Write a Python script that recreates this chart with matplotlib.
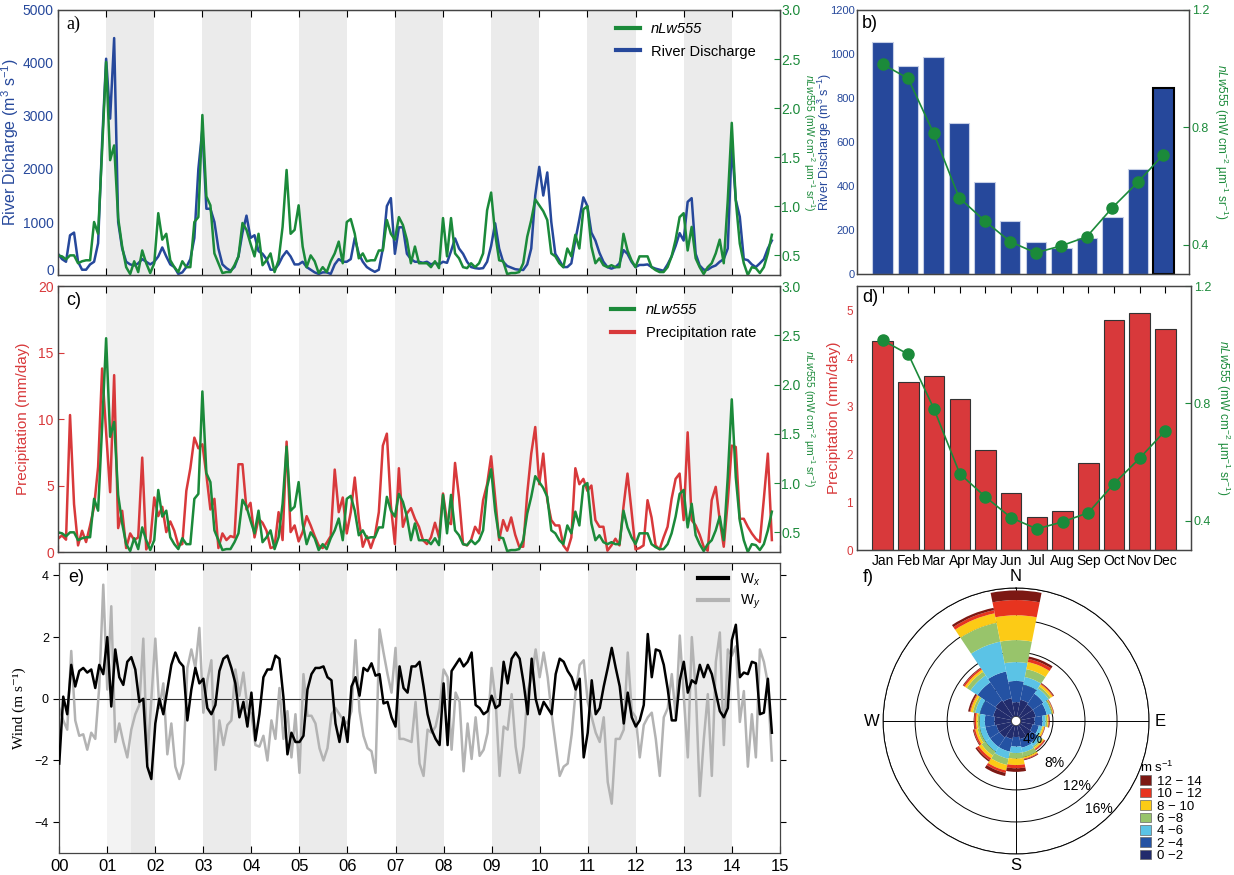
import numpy as np
import matplotlib
matplotlib.use("Agg")
import matplotlib.pyplot as plt
from matplotlib.patches import Patch
from matplotlib.lines import Line2D

plt.rcParams['font.family'] = ['Liberation Sans', 'DejaVu Sans']
plt.rcParams['mathtext.fontset'] = 'custom'
plt.rcParams['mathtext.rm'] = 'Liberation Sans'
plt.rcParams['mathtext.it'] = 'Liberation Sans:italic'
plt.rcParams['axes.linewidth'] = 0.9
plt.rcParams['axes.edgecolor'] = '#444444'

# ---------------- monthly series, 2000-01 .. 2014-11 ----------------
discharge = [
    400, 300, 250, 750, 800, 250, 100, 100, 200, 250, 600, 2500,
    4080, 2950, 4470, 1000, 500, 250, 200, 180, 220, 300, 250, 200,
    250, 350, 520, 350, 200, 150, 20, 50, 150, 300, 700, 2000,
    2750, 1250, 1250, 1000, 500, 200, 130, 80, 150, 350, 800, 1120,
    700, 750, 450, 400, 300, 100, 100, 200, 350, 450, 350, 200,
    200, 250, 150, 100, 50, 20, 50, 50, 20, 200, 300, 250,
    250, 300, 700, 400, 250, 150, 100, 60, 100, 500, 1300, 1450,
    400, 900, 900, 400, 300, 250, 250, 230, 250, 200, 230, 200,
    250, 230, 450, 690, 500, 400, 250, 150, 130, 120, 130, 250,
    550, 975, 500, 250, 170, 140, 110, 100, 95, 200, 500, 1500,
    2040, 1500, 1935, 1000, 400, 280, 150, 150, 220, 660, 1050, 1465,
    1300, 800, 650, 420, 250, 150, 120, 150, 220, 470, 400, 250,
    150, 190, 190, 200, 150, 120, 100, 80, 200, 350, 550, 790,
    650, 1380, 1450, 400, 180, 100, 100, 150, 180, 250, 300, 500,
    2480, 1415, 1100, 300, 280, 200, 150, 220, 300, 500, 650]

nlw555 = [
    0.50, 0.49, 0.46, 0.50, 0.50, 0.42, 0.44, 0.45, 0.45, 0.84, 0.72, 1.57,
    2.47, 1.47, 1.62, 0.88, 0.59, 0.38, 0.31, 0.44, 0.33, 0.55, 0.42, 0.32,
    0.42, 0.93, 0.66, 0.72, 0.45, 0.38, 0.33, 0.44, 0.38, 0.38, 0.84, 0.89,
    1.93, 1.10, 1.01, 0.52, 0.42, 0.32, 0.33, 0.33, 0.40, 0.49, 0.83, 0.76,
    0.62, 0.49, 0.72, 0.40, 0.45, 0.52, 0.33, 0.45, 0.79, 1.37, 0.72, 0.76,
    1.01, 0.59, 0.38, 0.50, 0.44, 0.32, 0.38, 0.33, 0.44, 0.52, 0.64, 0.42,
    0.84, 0.87, 0.72, 0.47, 0.52, 0.44, 0.45, 0.45, 0.55, 0.55, 0.86, 0.72,
    0.66, 0.89, 0.81, 0.66, 0.42, 0.59, 0.42, 0.42, 0.42, 0.38, 0.44, 0.37,
    0.88, 0.49, 0.88, 0.52, 0.47, 0.38, 0.37, 0.42, 0.38, 0.42, 0.52, 0.96,
    1.14, 0.72, 0.45, 0.44, 0.31, 0.32, 0.32, 0.33, 0.42, 0.69, 0.86, 1.07,
    1.01, 0.95, 0.86, 0.52, 0.49, 0.42, 0.38, 0.57, 0.49, 0.71, 0.57, 0.97,
    1.00, 0.59, 0.42, 0.47, 0.40, 0.38, 0.40, 0.38, 0.38, 0.72, 0.55, 0.45,
    0.38, 0.49, 0.49, 0.49, 0.38, 0.35, 0.33, 0.33, 0.38, 0.49, 0.66, 0.89,
    0.93, 0.55, 0.79, 0.47, 0.38, 0.31, 0.38, 0.42, 0.52, 0.66, 0.42, 1.06,
    1.85, 1.06, 0.62, 0.42, 0.30, 0.38, 0.37, 0.32, 0.38, 0.52, 0.71]

precip = [
    1.0, 1.25, 0.93, 10.3, 3.6, 0.5, 1.6, 0.75, 2.0, 3.4, 6.4, 13.8,
    9.0, 4.5, 13.3, 1.8, 3.1, 0.3, 1.4, 0.9, 1.1, 7.1, 0.2, 0.8,
    4.1, 2.7, 3.4, 1.5, 2.3, 1.6, 0.5, 0.6, 4.6, 6.3, 8.6, 7.8,
    8.1, 5.8, 3.2, 4.0, 0.3, 1.4, 0.9, 1.2, 1.1, 6.6, 6.6, 3.2,
    3.7, 1.1, 2.5, 2.2, 1.6, 0.3, 0.4, 3.0, 0.9, 8.3, 1.5, 2.0,
    0.8, 1.5, 2.7, 2.0, 1.2, 0.5, 0.3, 0.7, 1.2, 6.2, 3.0, 4.1,
    1.4, 3.0, 5.6, 2.5, 0.4, 1.2, 0.3, 1.2, 3.0, 8.0, 8.9, 3.5,
    0.6, 6.3, 1.9, 2.9, 3.3, 2.5, 1.9, 0.9, 0.6, 1.1, 2.2, 1.1,
    4.4, 2.3, 2.1, 6.7, 4.1, 0.6, 0.5, 0.9, 1.9, 1.4, 3.9, 5.1,
    7.2, 4.1, 0.9, 2.4, 1.6, 2.6, 1.3, 0.4, 0.4, 4.4, 7.4, 9.4,
    5.1, 7.4, 3.9, 2.4, 2.0, 2.0, 0.5, 0.1, 1.1, 6.3, 5.1, 5.5,
    4.6, 5.0, 2.4, 1.9, 1.9, 0.1, 0.5, 1.0, 0.5, 3.4, 5.9, 3.1,
    0.2, 0.3, 0.5, 3.9, 2.6, 0.5, 0.2, 1.1, 1.9, 4.0, 5.5, 5.9,
    2.4, 9.0, 2.4, 2.0, 1.3, 0.4, 0.1, 3.9, 4.9, 2.4, 0.4, 3.8,
    8.0, 7.9, 2.5, 2.5, 1.9, 1.4, 1.0, 0.75, 4.0, 7.4, 0.9]

wind_x = [
    -2.1, 0.07, -0.5, 1.1, 0.4, 0.9, 1.0, 0.85, 0.95, 0.35, 1.1, 0.8,
    2.0, -0.25, 1.6, 0.7, 0.45, 1.2, 1.35, 0.95, -0.1, 0.0, -2.2, -2.6,
    -0.8, 0.0, -0.5, 0.3, 1.1, 1.5, 1.2, 1.05, -0.7, 0.3, 1.0, 0.5,
    0.65, -0.3, -0.5, -0.2, 0.9, 1.3, 1.4, 1.0, 0.5, -0.6, -0.1, -0.9,
    0.2, -1.35, -0.5, 0.7, 0.95, 0.95, 1.4, 1.3, 0.05, -1.8, -1.1, -1.4,
    -1.4, -1.2, 0.3, 0.8, 1.0, 1.0, 1.05, 0.7, 0.6, -0.8, -1.4, -0.6,
    -1.4, 0.4, 0.7, 0.1, 1.0, 0.9, 1.15, 0.75, 0.8, -0.15, -0.1, -0.6,
    -0.9, 1.05, 0.35, 0.2, 1.05, 1.05, 1.2, 0.4, -0.5, -1.0, -1.3, -1.5,
    0.5, -1.5, 0.9, 1.1, 1.3, 1.05, 1.2, 1.5, -0.2, -0.3, -0.5, -0.4,
    0.1, -0.3, -0.2, 1.2, 0.5, 1.3, 1.5, 1.3, 0.5, -0.5, 1.3, 0.0,
    -0.5, -0.1, -0.3, -0.5, 0.8, 1.3, 1.2, 0.9, 0.7, 0.3, 0.65, -1.9,
    -1.1, 0.6, -0.5, -0.3, 0.4, 1.0, 1.65, 1.0, 0.4, -0.8, 0.2, -0.6,
    -0.9, -0.7, -0.2, 2.1, 0.7, 1.6, 1.55, 1.1, 0.3, -0.7, -0.7, 0.6,
    1.2, 0.2, 0.6, 0.5, 1.1, 0.7, 1.1, 0.8, 0.2, -0.4, -0.6, -0.3,
    1.9, 2.4, 0.7, 0.85, 0.8, 1.2, 1.15, -0.5, -0.45, 0.65, -1.1]

wind_y = [
    -0.3, -0.7, -1.0, 1.55, -0.7, -1.2, -1.15, -1.65, -1.1, -1.3, 0.4, 3.7,
    0.3, 3.0, -1.4, -0.8, -1.4, -1.9, -1.0, -0.5, -0.2, 1.95, -2.0, 0.0,
    1.95, -0.3, 0.5, -1.8, -0.8, -2.2, -2.6, -2.1, 1.0, 1.6, 1.0, 2.3,
    -0.45, 0.6, 1.25, -2.3, -0.7, -1.5, -0.85, -0.7, 0.95, 0.1, 0.85, -0.3,
    -0.5, -1.5, -1.55, -1.2, -2.0, -0.7, -1.3, 0.35, -1.3, -0.4, -1.9, -0.5,
    -2.4, 0.8, -0.55, -0.55, -0.8, -1.6, -2.0, -1.6, -0.5, -0.3, -0.5, -0.7,
    -0.8, -0.4, 1.9, -0.4, -1.2, -1.6, -1.7, -2.4, 2.25, 1.5, 0.8, 0.2,
    1.65, -1.3, -1.3, -1.35, -1.4, -0.1, -2.1, -2.5, -1.0, -1.1, -0.9, -0.3,
    0.95, 0.7, -1.65, 0.2, -0.1, -2.35, -0.8, -1.95, -0.6, -1.85, -1.65, -1.1,
    1.0, -0.05, -2.5, -0.9, -1.0, 0.15, -1.55, -2.4, -1.55, 0.25, 0.7, 1.6,
    0.7, 1.5, 0.7, -0.5, -1.5, -2.5, -2.2, -2.1, -1.15, 0.25, 1.1, 1.25,
    -0.1, -0.6, -1.1, -1.4, -0.6, -2.7, -3.4, -1.3, -1.3, -1.0, 1.5, -0.4,
    -0.6, -1.9, -0.85, -0.6, -0.45, -1.3, -2.5, -0.6, -0.3, 0.8, -0.6, 2.05,
    0.05, -1.9, 2.0, 0.25, -3.15, -1.3, 0.15, -2.5, 1.2, 2.15, -1.5, 1.6,
    1.4, 1.7, -0.75, 0.25, -2.2, -0.5, -1.9, 1.6, 1.2, 0.5, -2.0]

# ---------------- climatologies ----------------
months = ['Jan', 'Feb', 'Mar', 'Apr', 'May', 'Jun', 'Jul', 'Aug', 'Sep', 'Oct', 'Nov', 'Dec']
discharge_clim = [1056, 945, 988, 685, 420, 241, 144, 117, 162, 261, 476, 844]
precip_clim = [4.36, 3.51, 3.63, 3.15, 2.09, 1.18, 0.68, 0.81, 1.82, 4.79, 4.94, 4.61]
nlw_clim = [1.015, 0.967, 0.780, 0.560, 0.481, 0.410, 0.372, 0.396, 0.427, 0.526, 0.613, 0.707]

# ---------------- wind rose (% per direction, per speed class) ----------------
directions = ['N', 'NNE', 'NE', 'ENE', 'E', 'ESE', 'SE', 'SSE',
              'S', 'SSW', 'SW', 'WSW', 'W', 'WNW', 'NW', 'NNW']
speed_labels = ['0 \u22122', '2 \u22124', '4 \u22126', '6 \u22128',
                '8 \u2212 10', '10 \u2212 12', '12 \u2212 14']
spd_0_2 = [1.75, 2.1, 1.9, 1.9, 1.7, 1.5, 1.7, 1.7, 1.4, 1.7, 1.9, 1.9, 2.1, 2.3, 2.5, 2.3]
spd_2_4 = [2.65, 1.9, 1.6, 1.4, 1.0, 0.8, 1.0, 1.1, 1.2, 1.6, 1.4, 1.4, 1.2, 1.7, 2.7, 3.4]
spd_4_6 = [2.35, 1.0, 0.8, 0.6, 0.4, 0.4, 0.5, 0.6, 0.8, 0.9, 0.7, 0.7, 0.65, 0.6, 1.05, 3.8]
spd_6_8 = [2.75, 1.0, 0.3, 0.15, 0.2, 0.1, 0.2, 0.6, 0.7, 0.8, 0.6, 0.3, 0.25, 0.3, 0.55, 2.4]
spd_8_10 = [3.1, 0.9, 0.3, 0.1, 0.15, 0.2, 0.2, 0.2, 0.8, 0.7, 0.4, 0.3, 0.2, 0.3, 0.3, 1.2]
spd_10_12 = [1.9, 0.4, 0.1, 0.05, 0.05, 0.05, 0.15, 0.1, 0.4, 0.3, 0.3, 0.2, 0.2, 0.1, 0.2, 0.4]
spd_12_14 = [1.2, 0.3, 0.1, 0.05, 0.1, 0.05, 0.05, 0.1, 0.45, 0.4, 0.2, 0.1, 0.1, 0.2, 0.1, 0.3]

BLUE = '#26489b'
GREEN = '#1b8a3a'
RED = '#d8393b'
GRAY = '#b3b3b3'
rose_colors = ['#222c6c', '#2452a3', '#5bc3e6', '#98c46b', '#fccb16', '#e7341f', '#7c1813']
NLW_LABEL = '$nLw$555 (mW cm$^{-2}$ \u00b5m$^{-1}$ sr$^{-1}$)'

t = np.arange(len(discharge)) / 12.0
year_ticks = np.arange(16)
shade_years = [1, 3, 5, 7, 9, 11, 13]

fig = plt.figure(figsize=(12.34, 8.75), dpi=100)


def time_axis(ax, shade):
    for y0 in shade_years:
        ax.axvspan(y0, y0 + 1, color=shade, lw=0, zorder=0)
    ax.set_xlim(0, 15)
    ax.set_xticks(year_ticks)
    ax.tick_params(axis='x', direction='in', top=True, length=5, labelbottom=False)


def nlw_label(ax, pad, size=8.5):
    # rotated 270 so it reads top to bottom, body kept away from the tick labels
    ax.set_ylabel(NLW_LABEL, color=GREEN, fontsize=size, rotation=270, va='bottom', labelpad=pad)


def nlw_axis(ax):
    ax2 = ax.twinx()
    ax2.set_ylim(0.3, 3.0)
    ax2.set_yticks([0.5, 1.0, 1.5, 2.0, 2.5, 3.0])
    ax2.set_yticklabels(['0.5', '1.0', '1.5', '2.0', '2.5', '3.0'])
    ax2.tick_params(axis='y', colors=GREEN, direction='in', length=4, labelsize=10, pad=1)
    nlw_label(ax2, 0, 7.5)
    ax2.yaxis.set_label_coords(1.0295, 0.5)
    return ax2


# ---------------- a) ----------------
axa = fig.add_axes([0.047, 0.6857, 0.585, 0.3029])
time_axis(axa, '#ebebeb')
axa.plot(t, discharge, color=BLUE, lw=1.8, zorder=3)
axa.set_ylim(0, 5000)
axa.set_yticks(range(0, 5001, 1000))
axa.tick_params(axis='y', colors=BLUE, length=0, labelsize=10, pad=3)
# lift the bottom "0" a little so it clears the "20" of panel c
axa.yaxis.get_major_ticks()[0].label1.set_va('baseline')
axa.set_ylabel('River Dicharge (m$^3$ s$^{-1}$)', color=BLUE, fontsize=11.5, labelpad=1)
axa.text(0.012, 0.945, 'a)', transform=axa.transAxes, fontsize=13,
         family=['Liberation Serif'], va='center')
axa2 = nlw_axis(axa)
axa2.plot(t, nlw555, color=GREEN, lw=1.8)
leg = axa.legend(handles=[Line2D([], [], color=GREEN, lw=3, label='nLw555'),
                          Line2D([], [], color=BLUE, lw=3, label='River Discharge')],
                 loc='upper right', bbox_to_anchor=(0.985, 1.005), frameon=False,
                 fontsize=10.5, handlelength=1.6, labelspacing=0.6)
leg.get_texts()[0].set_fontstyle('italic')
leg.set_zorder(10)

# ---------------- c) ----------------
axc = fig.add_axes([0.047, 0.3691, 0.585, 0.304])
time_axis(axc, '#f1f1f1')
axc.plot(t, precip, color=RED, lw=1.8, zorder=3)
axc.set_ylim(0, 20)
axc.set_yticks([0, 5, 10, 15, 20])
axc.tick_params(axis='y', colors=RED, direction='in', length=4, labelsize=10, pad=3)
axc.set_ylabel('Precipitation (mm/day)', color=RED, fontsize=11, labelpad=6)
axc.text(0.012, 0.947, 'c)', transform=axc.transAxes, fontsize=13, va='center')
axc2 = nlw_axis(axc)
axc2.plot(t, nlw555, color=GREEN, lw=1.8)
leg = axc.legend(handles=[Line2D([], [], color=GREEN, lw=3, label='nLw555'),
                          Line2D([], [], color=RED, lw=3, label='Precipitation rate')],
                 loc='upper right', bbox_to_anchor=(0.985, 0.985), frameon=False,
                 fontsize=10.5, handlelength=1.6, labelspacing=0.6)
leg.get_texts()[0].set_fontstyle('italic')

# ---------------- e) ----------------
axe = fig.add_axes([0.048, 0.0251, 0.584, 0.3314])
axe.axvspan(1, 1.5, color='#f3f3f3', lw=0, zorder=0)
axe.axvspan(1.5, 2, color='#e9e9e9', lw=0, zorder=0)
for y0 in shade_years[1:]:
    axe.axvspan(y0, y0 + 1, color='#ebebeb', lw=0, zorder=0)
axe.axhline(0, color='#333333', lw=0.8, zorder=1)
axe.plot(t, wind_y, color=GRAY, lw=1.8, zorder=2)
axe.plot(t, wind_x, color='black', lw=1.8, zorder=3)
axe.set_xlim(0, 15)
axe.set_ylim(-5, 4.4)
axe.set_xticks(year_ticks)
axe.set_xticklabels(['%02d' % y for y in year_ticks])
axe.tick_params(axis='x', direction='in', top=True, length=5, labelsize=12, pad=4)
axe.set_yticks([-4, -2, 0, 2, 4])
axe.tick_params(axis='y', direction='out', length=4, labelsize=9, right=True)
axe.set_ylabel('Wind (m s\u207b\u00b9)', fontsize=11, family=['Liberation Serif', 'DejaVu Serif'],
               labelpad=6)
axe.text(0.012, 0.95, 'e)', transform=axe.transAxes, fontsize=13, va='center')
axe.legend(handles=[Line2D([], [], color='black', lw=3, label='W$_x$'),
                    Line2D([], [], color=GRAY, lw=3, label='W$_y$')],
           loc='upper right', bbox_to_anchor=(0.99, 1.015), frameon=False,
           fontsize=10, handlelength=2.2, labelspacing=0.4)

month_pos = np.arange(1, 13)

# ---------------- b) ----------------
axb = fig.add_axes([0.6945, 0.6869, 0.269, 0.3017])
bars = axb.bar(month_pos, discharge_clim, width=0.8, color=BLUE, edgecolor='#c6cfe6', lw=0.8)
bars[-1].set_edgecolor('black')
bars[-1].set_linewidth(1.5)
axb.set_xlim(0, 13)
axb.set_ylim(0, 1200)
axb.set_xticks([])
axb.set_yticks(range(0, 1201, 200))
axb.tick_params(axis='y', colors=BLUE, length=0, labelsize=8, pad=1.5)
axb.set_ylabel('River Discharge (m$^3$ s$^{-1}$)', color=BLUE, fontsize=9, labelpad=0)
axb.yaxis.set_label_coords(-0.068, 0.5)
axb.text(0.015, 0.95, 'b)', transform=axb.transAxes, fontsize=13, va='center')
axb2 = axb.twinx()
axb2.plot(month_pos, nlw_clim, color=GREEN, lw=1.2, marker='o', ms=8)
axb2.set_ylim(0.3, 1.2)
axb2.set_yticks([0.4, 0.8, 1.2])
axb2.set_yticklabels(['0.4', '0.8', '1.2'])
axb2.tick_params(axis='y', colors=GREEN, direction='in', length=4, labelsize=9, pad=2)
nlw_label(axb2, 2)

# ---------------- d) ----------------
axd = fig.add_axes([0.6945, 0.3714, 0.2707, 0.3017])
axd.bar(month_pos, precip_clim, width=0.8, color=RED, edgecolor='#333333', lw=0.8)
axd.set_xlim(0, 13)
axd.set_ylim(0, 5.5)
axd.set_xticks(month_pos)
axd.set_xticklabels(months)
axd.tick_params(axis='x', direction='in', top=True, bottom=False, length=5, labelsize=10, pad=3)
axd.set_yticks(range(0, 6))
axd.tick_params(axis='y', colors=RED, length=0, labelsize=8.5, pad=3)
axd.set_ylabel('Precipitation (mm/day)', color=RED, fontsize=11, labelpad=4)
axd.text(0.015, 0.955, 'd)', transform=axd.transAxes, fontsize=13, va='center')
axd2 = axd.twinx()
axd2.plot(month_pos, nlw_clim, color=GREEN, lw=1.2, marker='o', ms=8)
axd2.set_ylim(0.3, 1.2)
axd2.set_yticks([0.4, 0.8, 1.2])
axd2.set_yticklabels(['0.4', '0.8', '1.2'])
axd2.tick_params(axis='y', colors=GREEN, direction='in', length=4, labelsize=9, pad=2)
nlw_label(axd2, 2)

# ---------------- f) wind rose ----------------
axf = fig.add_axes([0.7156, 0.024, 0.2156, 0.304], projection='polar')
axf.set_theta_zero_location('N')
axf.set_theta_direction(-1)
axf.set_rorigin(-0.6)
axf.set_ylim(0, 16)
theta = np.deg2rad(np.arange(len(directions)) * 22.5)
bottom = np.zeros(len(directions))
speed_bins = [spd_0_2, spd_2_4, spd_4_6, spd_6_8, spd_8_10, spd_10_12, spd_12_14]
for vals, col in zip(speed_bins, rose_colors):
    axf.bar(theta, vals, width=np.deg2rad(22.5), bottom=bottom, color=col,
            edgecolor='none', zorder=3)
    bottom += np.array(vals)
axf.set_axisbelow(True)
axf.set_rgrids([4, 8, 12, 16], labels=['', '', '', ''])
axf.set_thetagrids([0, 90, 180, 270], labels=['N', 'E', 'S', 'W'], fontsize=12)
axf.tick_params(axis='x', pad=-2.5)
axf.grid(color='black', lw=0.7)
axf.spines['polar'].set_color('black')
axf.spines['polar'].set_linewidth(0.7)
for r in [4, 8, 12, 16]:
    axf.text(np.deg2rad(137), r - 1.5, '%d%%' % r, fontsize=10, ha='center', va='center', zorder=5)
fig.text(0.699, 1 - 577 / 875, 'f)', fontsize=13, va='center')

handles = [Patch(facecolor=c, edgecolor='#666666', lw=0.5, label=l)
           for c, l in zip(rose_colors[::-1], speed_labels[::-1])]
fig.legend(handles=handles, title='m s$^{-1}$', loc='upper left',
           bbox_to_anchor=(1140 / 1234, 1 - 760 / 875), frameon=False, fontsize=9.5,
           title_fontsize=9.5, handlelength=0.85, handleheight=0.75, labelspacing=0.0,
           handletextpad=0.45, borderpad=0, borderaxespad=0, alignment='left')

fig.savefig('out.png', dpi=100)
